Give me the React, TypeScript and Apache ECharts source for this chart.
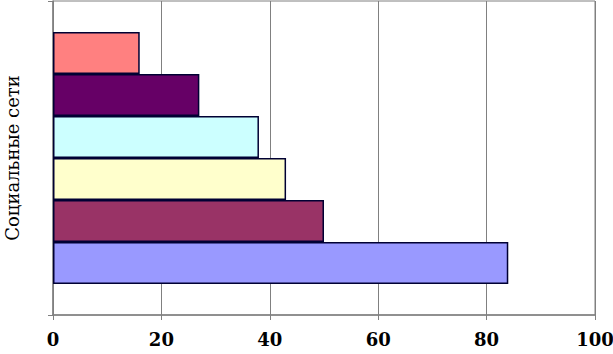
import React, { useEffect, useRef } from "react";
import * as echarts from "echarts";

const categories = ["Социальные сети"];
// top-to-bottom order of bars
const seriesValues = [16, 27, 38, 43, 50, 84];
const seriesColors = ["#FF8080", "#660066", "#CCFFFF", "#FFFFCC", "#993366", "#9999FF"];
const xTicks = [0, 20, 40, 60, 80, 100];

const SERIF = "DejaVu Serif";

export default function App() {
  const ref = useRef<HTMLDivElement>(null);
  useEffect(() => {
    if (!ref.current) return;
    const chart = echarts.init(ref.current, null, { renderer: "svg" });
    chart.setOption({
      animation: false,
      backgroundColor: "#ffffff",
      textStyle: { fontFamily: SERIF },
      grid: {
        left: 53,
        right: 18,
        top: 1,
        bottom: 39,
        outerBoundsMode: "none",
        containLabel: false,
        show: true,
        borderColor: "#808080",
        borderWidth: 1,
      },
      xAxis: {
        type: "value",
        min: xTicks[0],
        max: xTicks[xTicks.length - 1],
        interval: 20,
        axisLine: { show: true, lineStyle: { color: "#808080", width: 1.5 } },
        axisTick: { show: true, length: 5, lineStyle: { color: "#808080" } },
        splitLine: { show: true, lineStyle: { color: "#808080", width: 1 } },
        axisLabel: {
          color: "#000",
          fontFamily: SERIF,
          fontWeight: "bold",
          fontSize: 18,
          margin: 15,
        },
      },
      yAxis: {
        type: "category",
        inverse: true,
        data: categories,
        name: categories[0],
        nameLocation: "middle",
        nameGap: 32,
        nameRotate: 90,
        nameTextStyle: { fontFamily: SERIF, fontSize: 18, color: "#000" },
        axisLine: { show: true, lineStyle: { color: "#808080", width: 1.5 } },
        axisTick: { show: true, length: 5, lineStyle: { color: "#808080" } },
        axisLabel: { show: false },
      },
      series: seriesValues.map((v, i) => ({
        type: "bar",
        data: [v],
        barWidth: 42,
        barGap: "0%",
        itemStyle: { color: seriesColors[i], borderColor: "#000033", borderWidth: 1.5 },
      })),
    });
    return () => chart.dispose();
  }, []);
  return <div ref={ref} style={{ width: 613, height: 354, position: "absolute", left: 0, top: 0 }} />;
}
